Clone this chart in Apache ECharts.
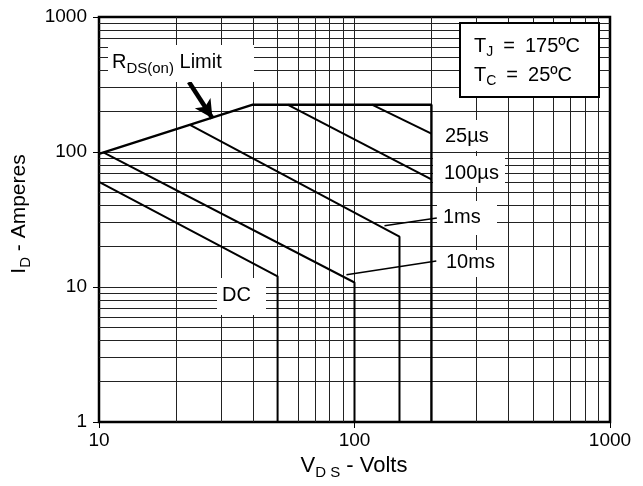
<!DOCTYPE html>
<html><head><meta charset="utf-8">
<script src="https://cdn.jsdelivr.net/npm/echarts@6/dist/echarts.min.js"></script>
<style>html,body{margin:0;padding:0;background:#fff}#c{width:643px;height:486px}</style>
</head><body><div id="c"></div>
<script>
// ---- data ----
const xTickLabels = [10, 100, 1000];
const yTickLabels = [1, 10, 100, 1000];
const rdsLimit   = [[10, 97], [40, 224], [200, 224], [200, 1]];
const pulse25us  = [[117, 224], [200, 137]];
const pulse100us = [[54.7, 224], [200, 62.8]];
const pulse1ms   = [[22.7, 159], [150, 23.6], [150, 1]];
const pulse10ms  = [[10.4, 99.5], [100, 10.8], [100, 1]];
const dcLine     = [[10, 60], [50, 12], [50, 1]];
const leader1ms  = [[210, 32.4], [131, 28.4]];
const leader10ms = [[209, 15.6], [93, 12.3]];
const rdsArrow   = [[22.5, 330], [27.8, 178]];

// log grid lines
const gridX = [100];
for (const d of [10, 100]) for (let m = 2; m <= 9; m++) gridX.push(d * m);
const gridY = [10, 100];
for (const d of [1, 10, 100]) for (let m = 2; m <= 9; m++) gridY.push(d * m);

const FONT = '"Liberation Sans", Arial, sans-serif';
const mctx = document.createElement('canvas').getContext('2d');
function tw(t, s) { mctx.font = s + 'px ' + FONT; return mctx.measureText(t).width; }
function partsWidth(parts) { return parts.reduce((a, p) => a + tw(p[0], p[1]), 0); }
function subLabel(x, y, parts, rotation) {
  let cx = 0; const children = [];
  for (const [t, s, dy] of parts) {
    children.push({ type: 'text', z: 12, x: cx, y: dy,
      style: { text: t, fontSize: s, fontFamily: FONT, fill: '#000', verticalAlign: 'middle', align: 'left' } });
    cx += tw(t, s);
  }
  return { type: 'group', x, y, rotation: rotation || 0, z: 12, children };
}
function whiteBox(x, y, w, h) {
  return { type: 'rect', z: 11, shape: { x, y, width: w, height: h }, style: { fill: '#fff' } };
}
function plainText(x, y, t, s) {
  return { type: 'text', z: 12, x, y, style: { text: t, fontSize: s, fontFamily: FONT, fill: '#000', verticalAlign: 'middle', align: 'left' } };
}

function curve(name, data, w) {
  return { name, type: 'line', data, symbol: 'none', z: 5, lineStyle: { color: '#000', width: w || 2 }, silent: true };
}

const xParts = [['V', 22, 0], ['D S', 15, 7], [' - Volts', 22, 0]];
const yParts = [['I', 21, 0], ['D', 15, 7], [' - Amperes', 21, 0]];

const option = {
  animation: false,
  backgroundColor: '#fff',
  grid: { left: 99, top: 17, right: 33, bottom: 64, show: true, borderColor: '#000', borderWidth: 2.5, outerBoundsMode: 'none', containLabel: false },
  xAxis: {
    type: 'log', logBase: 10, min: 10, max: 1000,
    axisLine: { show: false },
    axisTick: { show: true, inside: false, length: 6, lineStyle: { color: '#000', width: 1 } },
    axisLabel: { color: '#000', fontSize: 19, fontFamily: FONT, margin: 9, showMinLabel: true, showMaxLabel: true,
      formatter: v => xTickLabels.includes(Math.round(v)) ? String(Math.round(v)) : '' },
    splitLine: { show: false }, minorTick: { show: false }, minorSplitLine: { show: false }
  },
  yAxis: {
    type: 'log', logBase: 10, min: 1, max: 1000,
    axisLine: { show: false },
    axisTick: { show: true, inside: false, length: 6, lineStyle: { color: '#000', width: 1 } },
    axisLabel: { color: '#000', fontSize: 19, fontFamily: FONT, margin: 12, showMinLabel: true, showMaxLabel: true,
      formatter: v => yTickLabels.includes(Math.round(v)) ? String(Math.round(v)) : '' },
    splitLine: { show: false }, minorTick: { show: false }, minorSplitLine: { show: false }
  },
  series: [
    { name: 'grid', type: 'line', data: [], z: 1, silent: true,
      markLine: { silent: true, symbol: ['none', 'none'], label: { show: false }, animation: false,
        lineStyle: { color: '#222', width: 1, type: 'solid' },
        data: [...gridX.map(v => ({ xAxis: v })), ...gridY.map(v => ({ yAxis: v }))] } },
    curve('RDS(on) Limit', rdsLimit, 2.4),
    curve('25µs', pulse25us),
    curve('100µs', pulse100us),
    curve('1ms', pulse1ms),
    curve('10ms', pulse10ms),
    curve('DC', dcLine),
    curve('leader 1ms', leader1ms, 1.5),
    curve('leader 10ms', leader10ms, 1.5),
    { name: 'arrow', type: 'line', data: [], z: 6, silent: true,
      markLine: { silent: true, symbol: ['none', 'arrow'], symbolSize: [14, 18], label: { show: false }, animation: false,
        lineStyle: { color: '#000', width: 4.5, type: 'solid' },
        data: [[{ coord: rdsArrow[0] }, { coord: rdsArrow[1] }]] } }
  ],
  graphic: { elements: [
    whiteBox(108, 45, 146, 37),
    subLabel(112, 62, [['R', 20, 0], ['DS(on)', 15, 7], [' Limit', 20, 0]]),
    { type: 'rect', z: 11, shape: { x: 460, y: 23, width: 139, height: 74 }, style: { fill: '#fff', stroke: '#000', lineWidth: 2 } },
    subLabel(474, 46, [['T', 20, 0], ['J', 14, 6], ['\u2002=\u2002175ºC', 20, 0]]),
    subLabel(474, 75, [['T', 20, 0], ['C', 14, 6], ['\u2002=\u200225ºC', 20, 0]]),
    whiteBox(433, 120, 73, 31), plainText(445, 136, '25µs', 20),
    whiteBox(433, 156, 72, 31), plainText(444, 173, '100µs', 20),
    whiteBox(437, 201, 60, 34), plainText(443, 217, '1ms', 20),
    whiteBox(437, 250, 66, 27), plainText(446, 262, '10ms', 20),
    whiteBox(217, 278, 49, 37), plainText(222, 295, 'DC', 20),
    subLabel(354 - partsWidth(xParts) / 2, 466, xParts),
    subLabel(19, 214 + partsWidth(yParts) / 2, yParts, Math.PI / 2)
  ] }
};
const chart = echarts.init(document.getElementById('c'), null, { renderer: 'canvas' });
chart.setOption(option);
</script>
</body></html>
